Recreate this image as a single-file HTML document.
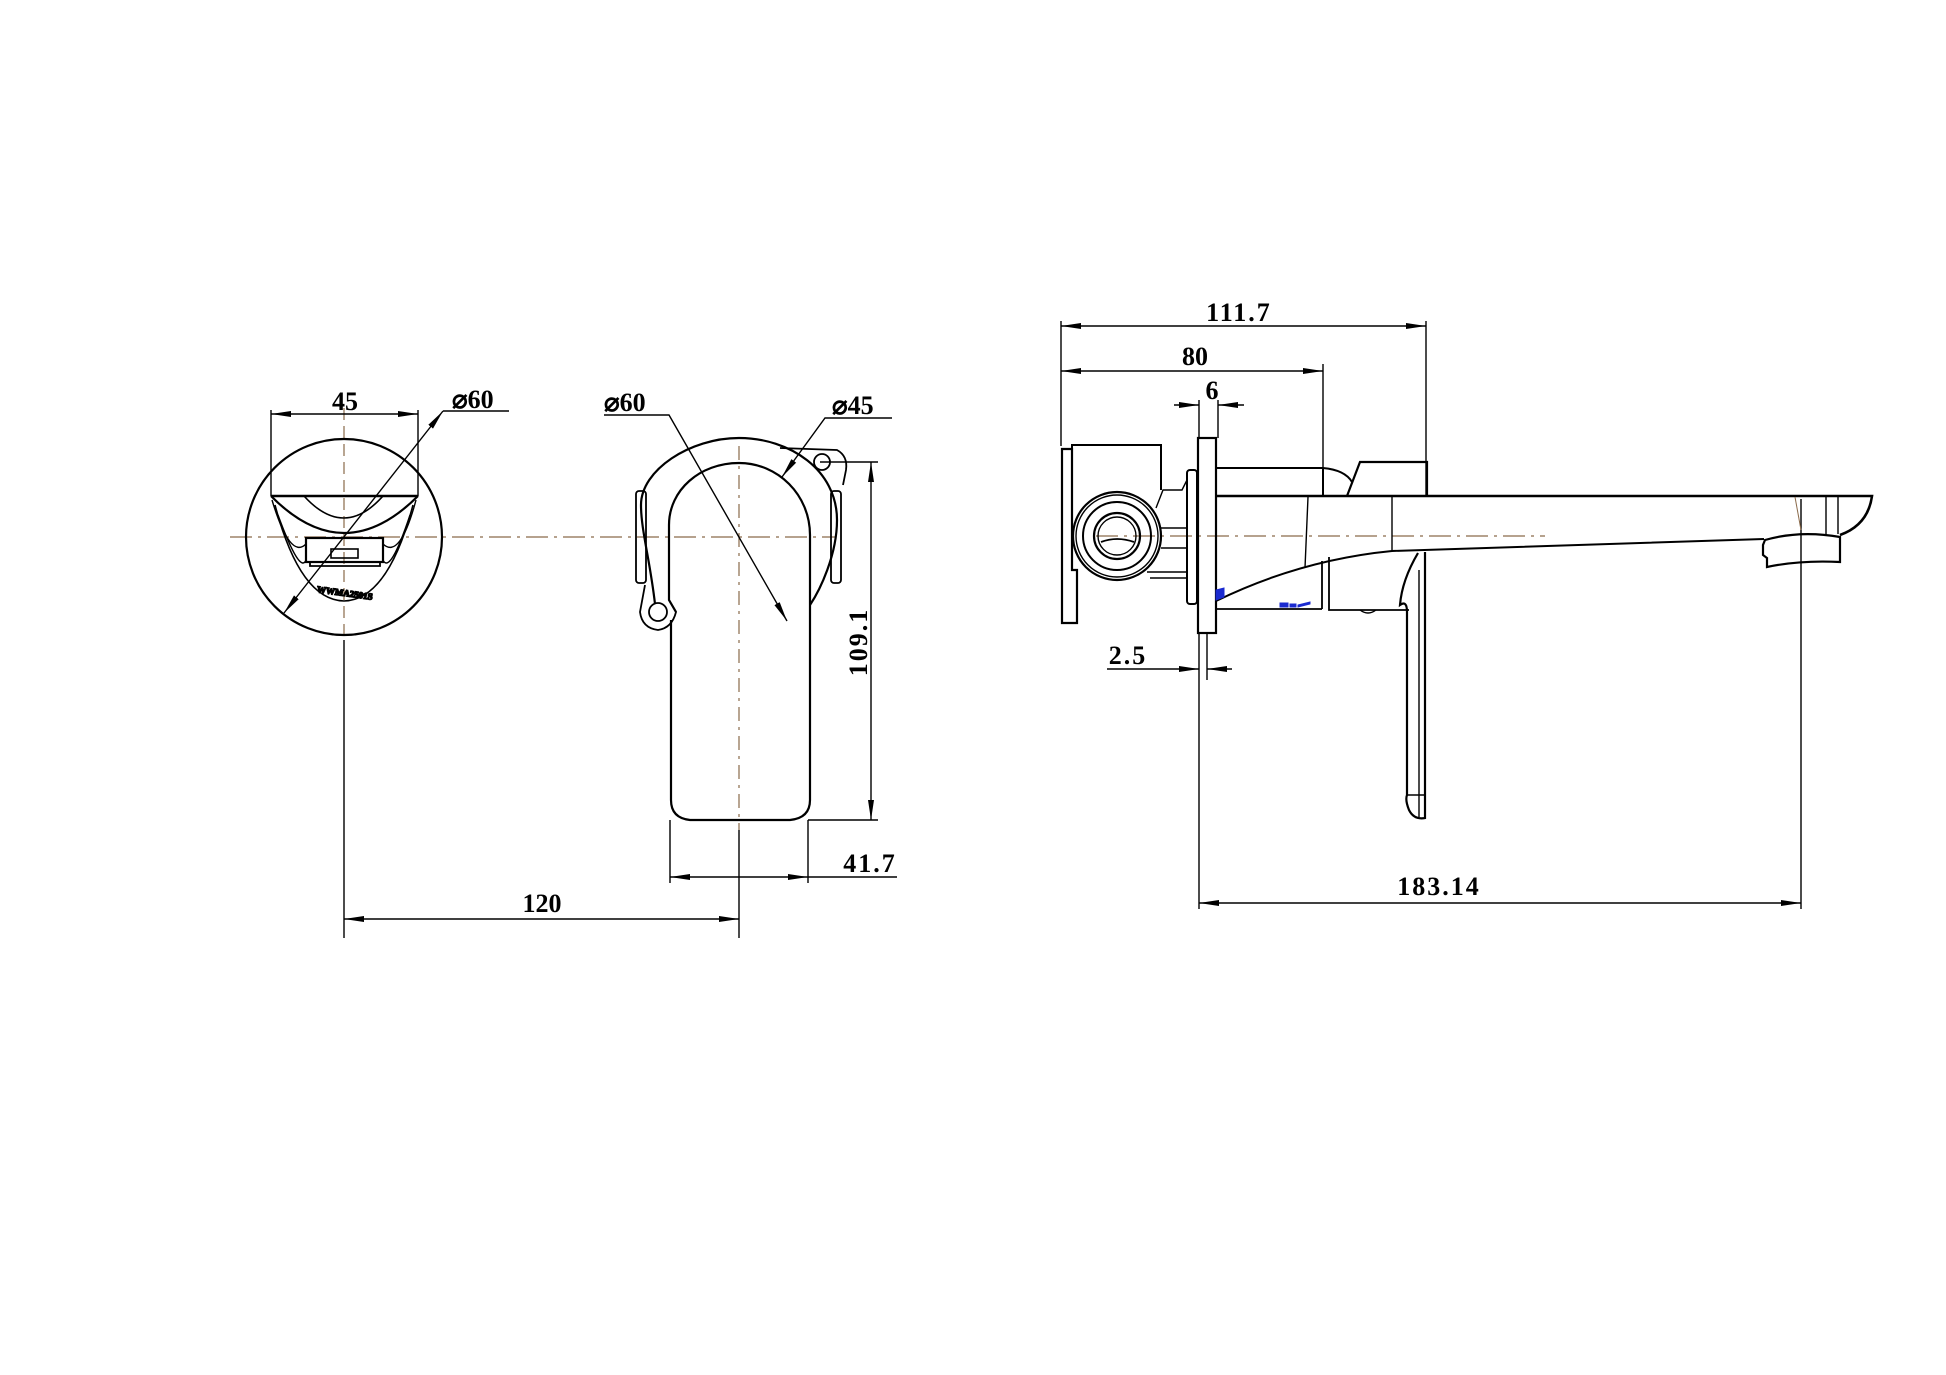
<!DOCTYPE html>
<html><head><meta charset="utf-8"><style>
html,body{margin:0;padding:0;background:#fff;}
svg{display:block;}
text{font-family:"Liberation Serif",serif;fill:#000;}
</style></head><body>
<svg width="1946" height="1375" viewBox="0 0 1946 1375" xmlns="http://www.w3.org/2000/svg">
<defs>
<marker id="a" viewBox="0 0 20 8" refX="20" refY="4" markerWidth="20" markerHeight="8" markerUnits="userSpaceOnUse" orient="auto-start-reverse"><path d="M0,1 L20,4 L0,7 Z" fill="#000"/></marker>
</defs>
<g fill="none" stroke="#000" stroke-width="1.4">
<!-- centerlines -->
<path d="M230,537 H835" stroke="#8a6a4a" stroke-width="1.2" stroke-dasharray="22,6,3,6"/>
<path d="M1096,536 H1545" stroke="#8a6a4a" stroke-width="1.2" stroke-dasharray="22,6,3,6"/>
<path d="M344,408 V640" stroke="#8a6a4a" stroke-width="1.2" stroke-dasharray="12,6"/>
<path d="M739,446 V830" stroke="#8a6a4a" stroke-width="1.2" stroke-dasharray="14,6,3,6"/>
<path d="M344,640 V938 M739,830 V938"/>

<!-- LEFT VIEW -->
<circle cx="344" cy="537" r="98" stroke-width="2.2"/>
<path d="M271,496 H418" stroke-width="2.4"/>
<path d="M271,496 Q344,570 418,496" stroke-width="2.2"/>
<path d="M304,496 Q344,540 383,496" stroke-width="1.6"/>
<path d="M272,500 Q290,560 306,544 M416,500 Q400,560 383,544"/>
<path d="M275,505 Q300,600 344,601 Q388,600 413,505" stroke-width="1.6"/>
<path d="M278,515 Q300,575 306,560 M410,515 Q390,575 383,560"/>
<rect x="306" y="538" width="77" height="24" stroke-width="2.2"/>
<path d="M310,562 V566 H380 V562" stroke-width="1.8"/>
<rect x="331" y="549" width="27" height="9" stroke-width="1.6"/>
<text x="345" y="596" font-family="Liberation Sans" font-size="9" font-weight="bold" text-anchor="middle" style="fill:#1a2ad0" transform="rotate(8 345 592)">WWMA2501S</text>
<!-- 45 dim -->
<path d="M271,496 V410 M418,496 V410"/>
<path d="M271,414 H418" marker-start="url(#a)" marker-end="url(#a)"/>
<!-- Ø60 leader -->
<path d="M284,613 L443,411" marker-start="url(#a)" marker-end="url(#a)"/>
<path d="M443,411 L509,411"/>

<!-- MIDDLE VIEW -->
<path d="M655,604 C650,560 641,530 641,505 C641,470 690,438 739,438 C790,438 837,470 837,520 C837,555 820,590 810,605" stroke-width="2.2"/>
<path d="M676,612 L669,600 V525 C669,490 700,463 739,463 C778,463 810,495 810,535 V800 Q810,818 790,820 H690 Q671,818 671,800 V620" stroke-width="2.2"/>
<rect x="636" y="491" width="10" height="92" rx="3" stroke-width="1.8"/>
<rect x="831" y="491" width="10" height="92" rx="3" stroke-width="1.8"/>
<path d="M645,585 L640,612 Q642,628 658,630 Q672,628 676,612 L669,600" stroke-width="1.8"/>
<circle cx="658" cy="612" r="9" stroke-width="1.8"/>
<path d="M780,448 L837,450 Q848,456 846,470 L843,485" stroke-width="1.8"/>
<circle cx="822" cy="462" r="8" stroke-width="1.8"/>
<!-- leaders -->
<path d="M604,415 H669 L787,621" marker-end="url(#a)"/>
<path d="M892,418 H825 L782,477" marker-end="url(#a)"/>
<!-- 109.1 -->
<path d="M820,462 H878 M808,820 H878"/>
<path d="M871,462 V820" marker-start="url(#a)" marker-end="url(#a)"/>
<!-- 41.7 -->
<path d="M670,820 V883 M808,820 V883"/>
<path d="M670,877 H808" marker-start="url(#a)" marker-end="url(#a)"/>
<path d="M808,877 H897"/>
<!-- 120 -->
<path d="M344,919 H739" marker-start="url(#a)" marker-end="url(#a)"/>

<!-- RIGHT VIEW -->
<path d="M1061,321 V446 M1426,321 V495 M1323,364 V495"/>
<path d="M1061,326 H1426" marker-start="url(#a)" marker-end="url(#a)"/>
<path d="M1061,371 H1323" marker-start="url(#a)" marker-end="url(#a)"/>
<path d="M1174,405 H1199" marker-end="url(#a)"/>
<path d="M1244,405 H1218" marker-end="url(#a)"/>
<path d="M1199,400 V438 M1218,400 V438"/>
<path d="M1107,669 H1199" marker-end="url(#a)"/>
<path d="M1232,669 H1207" marker-end="url(#a)"/>
<path d="M1199,633 V909 M1207,633 V680 M1801,499 V909"/>
<path d="M1199,903 H1801" marker-start="url(#a)" marker-end="url(#a)"/>
<path d="M1062,449 H1072 V570 H1077 V623 H1062 Z" stroke-width="2.2"/>
<path d="M1072,449 V445 H1161 V490 M1072,570 V540" stroke-width="2"/>
<circle cx="1117" cy="536" r="44" stroke-width="2.2"/>
<circle cx="1117" cy="536" r="41"/>
<circle cx="1117" cy="536" r="34" stroke-width="2"/>
<circle cx="1117" cy="536" r="23" stroke-width="2.2"/>
<circle cx="1117" cy="536" r="19"/>
<path d="M1101,542 Q1117,536 1134,542" stroke-width="1.8"/>
<path d="M1156,508 L1163,490 H1182 L1187,480 M1161,528 H1187 M1161,548 H1187 M1147,572 H1187 M1150,578 H1187"/>
<rect x="1187" y="470" width="10" height="134" rx="3" stroke-width="2"/>
<rect x="1198" y="438" width="18" height="195" stroke-width="2.2"/>
<path d="M1216,496 V468 H1323 Q1345,470 1352,482" stroke-width="2"/>
<path d="M1323,468 V496" stroke-width="2"/>
<path d="M1347,496 L1360,462 H1427 V496" stroke-width="2.2"/>
<path d="M1216,496 H1872 Q1868,525 1840,535" stroke-width="2.6"/>
<path d="M1216,601 Q1300,560 1392,551 L1764,539" stroke-width="2"/>
<path d="M1308,497 L1305,568 M1392,497 V551 M1826,497 V536 M1838,497 V534"/>
<path d="M1795,497 L1801,530" stroke="#8a6a4a" stroke-width="1"/>
<path d="M1765,540 Q1800,530 1840,537 V562 Q1800,560 1767,567 V558 L1763,555 V545 Z" stroke-width="2.2"/>
<path d="M1216,609 H1322 M1322,561 V609 M1329,557 V610 H1409" stroke-width="1.8"/>
<path d="M1360,610 Q1368,616 1376,610"/>
<path d="M1425,552 V818 Q1414,820 1409,810 Q1405,800 1407,795 V612 Q1407,600 1400,605 Q1402,580 1418,553" stroke-width="2.2"/>
<path d="M1419,570 V817 M1407,795 H1425"/>
<path d="M1216,600 l8,-3 v-9 l-8,2 z M1280,603 h8 v4 h-8 z M1290,604 h6 v3 h-6 z M1298,605 l12,-3 v2 l-12,3 z" fill="#1a2ad0" stroke="#1a2ad0" stroke-width="1"/>
</g>
<g font-size="26" font-weight="bold">
<text x="345" y="410" text-anchor="middle" font-family="Liberation Sans">45</text>
<text x="452" y="408" font-family="Liberation Sans">⌀60</text>
<text x="604" y="411" font-family="Liberation Sans">⌀60</text>
<text x="832" y="414" font-family="Liberation Sans">⌀45</text>
<text x="858" y="642" text-anchor="middle" transform="rotate(-90 858 642)" dy="9" letter-spacing="2">109.1</text>
<text x="870" y="872" text-anchor="middle" letter-spacing="2">41.7</text>
<text x="542" y="912" text-anchor="middle">120</text>
<text x="1239" y="321" text-anchor="middle" letter-spacing="2">111.7</text>
<text x="1195" y="365" text-anchor="middle">80</text>
<text x="1212" y="399" text-anchor="middle">6</text>
<text x="1128" y="664" text-anchor="middle" letter-spacing="2">2.5</text>
<text x="1439" y="895" text-anchor="middle" letter-spacing="2">183.14</text>
</g>
</svg>
</body></html>
